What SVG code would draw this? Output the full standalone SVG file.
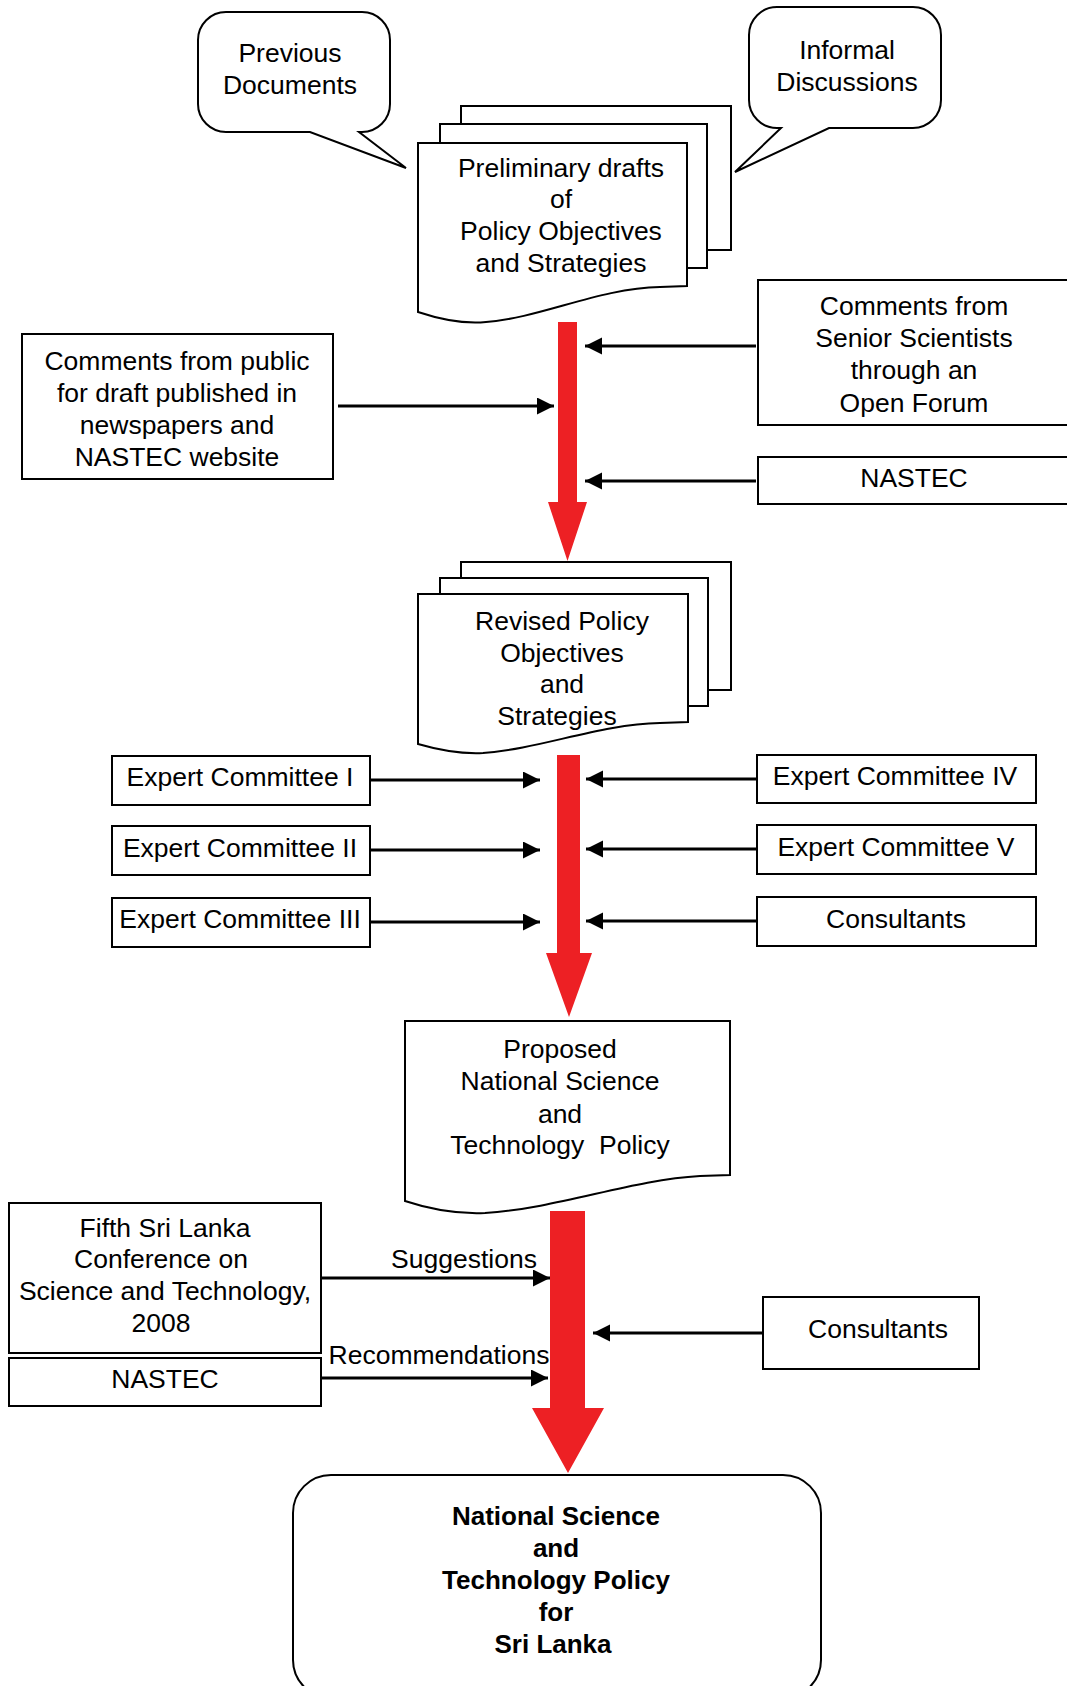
<svg xmlns="http://www.w3.org/2000/svg" width="1067" height="1686" viewBox="0 0 1067 1686">
<style>
.box{fill:#fff;stroke:#000;stroke-width:2}
.t{font-family:"Liberation Sans",Arial,sans-serif;font-size:26.5px;fill:#000;text-anchor:middle}
.b{font-family:"Liberation Sans",Arial,sans-serif;font-size:26px;font-weight:bold;fill:#000;text-anchor:middle}
.ln{stroke:#000;stroke-width:3.2;fill:none;marker-end:url(#ah)}
.red{fill:#ED2024;stroke:none}
</style>
<defs>
<marker id="ah" markerUnits="userSpaceOnUse" markerWidth="18" markerHeight="18" refX="17" refY="8.5" orient="auto">
<path d="M0,0 L17,8.5 L0,17 Z" fill="#000"/>
</marker>
</defs>
<rect width="1067" height="1686" fill="#fff"/>

<g id="previous-documents">
<path class="box" d="M226,12 H362 A28 28 0 0 1 390 40 V104 A28 28 0 0 1 362 132 H359 L406 168 L310 132 H226 A28 28 0 0 1 198 104 V40 A28 28 0 0 1 226 12 Z"/>
<text class="t" x="290" y="62">Previous</text>
<text class="t" x="290" y="94">Documents</text>
</g>

<g id="informal-discussions">
<path class="box" d="M777,7 H913 A28 28 0 0 1 941 35 V100 A28 28 0 0 1 913 128 H829 L735 172 L781 128 H777 A28 28 0 0 1 749 100 V35 A28 28 0 0 1 777 7 Z"/>
<text class="t" x="847" y="59">Informal</text>
<text class="t" x="847" y="91">Discussions</text>
</g>

<g id="preliminary-drafts">
<rect class="box" x="461" y="106" width="270" height="144"/>
<rect class="box" x="440" y="124" width="267" height="144"/>
<path class="box" d="M418,143 H687 V286 L660,287 C600,288 540,318 486,322 C465,324 445,321 418,312 Z"/>
<text class="t" x="561" y="177">Preliminary drafts</text>
<text class="t" x="561" y="208">of</text>
<text class="t" x="561" y="240">Policy Objectives</text>
<text class="t" x="561" y="272">and Strategies</text>
</g>

<g id="comments-public">
<rect class="box" x="22" y="334" width="311" height="145"/>
<text class="t" x="177" y="370">Comments from public</text>
<text class="t" x="177" y="402">for draft published in</text>
<text class="t" x="177" y="434">newspapers and</text>
<text class="t" x="177" y="466">NASTEC website</text>
</g>

<g id="senior-scientists">
<rect class="box" x="758" y="280" width="330" height="145"/>
<text class="t" x="914" y="315">Comments from</text>
<text class="t" x="914" y="347">Senior Scientists</text>
<text class="t" x="914" y="379">through an</text>
<text class="t" x="914" y="412">Open Forum</text>
</g>

<g id="nastec-1">
<rect class="box" x="758" y="457" width="330" height="47"/>
<text class="t" x="914" y="487">NASTEC</text>
</g>

<g id="revised-policy">
<rect class="box" x="461" y="562" width="270" height="128"/>
<rect class="box" x="440" y="578" width="268" height="128"/>
<path class="box" d="M418,594 H688 V722 L660,723 C600,724 540,749 483,753 C462,754 442,751 418,744 Z"/>
<text class="t" x="562" y="630">Revised Policy</text>
<text class="t" x="562" y="662">Objectives</text>
<text class="t" x="562" y="693">and</text>
<text class="t" x="557" y="725">Strategies</text>
</g>

<g id="expert-committee-1">
<rect class="box" x="112" y="756" width="258" height="49"/>
<text class="t" x="240" y="786">Expert Committee I</text>
</g>
<g id="expert-committee-2">
<rect class="box" x="112" y="826" width="258" height="49"/>
<text class="t" x="240" y="857">Expert Committee II</text>
</g>
<g id="expert-committee-3">
<rect class="box" x="112" y="898" width="258" height="49"/>
<text class="t" x="240" y="928">Expert Committee III</text>
</g>
<g id="expert-committee-4">
<rect class="box" x="757" y="755" width="279" height="48"/>
<text class="t" x="895" y="785">Expert Committee IV</text>
</g>
<g id="expert-committee-5">
<rect class="box" x="757" y="825" width="279" height="49"/>
<text class="t" x="896" y="856">Expert Committee V</text>
</g>
<g id="consultants-1">
<rect class="box" x="757" y="897" width="279" height="49"/>
<text class="t" x="896" y="928">Consultants</text>
</g>

<g id="proposed-policy">
<path class="box" d="M405,1021 H730 V1175 L700,1176 C630,1180 560,1208 485,1213 C462,1214 432,1210 405,1201 Z"/>
<text class="t" x="560" y="1058">Proposed</text>
<text class="t" x="560" y="1090">National Science</text>
<text class="t" x="560" y="1123">and</text>
<text class="t" x="560" y="1154" xml:space="preserve">Technology  Policy</text>
</g>

<g id="fifth-conference">
<rect class="box" x="9" y="1203" width="312" height="150"/>
<text class="t" x="165" y="1237">Fifth Sri Lanka</text>
<text class="t" x="161" y="1268">Conference on</text>
<text class="t" x="165" y="1300">Science and Technology,</text>
<text class="t" x="161" y="1332">2008</text>
</g>

<g id="nastec-2">
<rect class="box" x="9" y="1358" width="312" height="48"/>
<text class="t" x="165" y="1388">NASTEC</text>
</g>

<g id="consultants-2">
<rect class="box" x="763" y="1297" width="216" height="72"/>
<text class="t" x="878" y="1338">Consultants</text>
</g>

<g id="final-policy">
<rect class="box" x="293" y="1475" width="528" height="223" rx="38" ry="38"/>
<text class="b" x="556" y="1525">National Science</text>
<text class="b" x="556" y="1557">and</text>
<text class="b" x="556" y="1589">Technology Policy</text>
<text class="b" x="556" y="1621">for</text>
<text class="b" x="553" y="1653">Sri Lanka</text>
</g>

<g id="connectors">
<polygon class="red" points="558,322 577,322 577,502 587,502 567.5,561 548,502 558,502"/>
<polygon class="red" points="557,755 580,755 580,953 592,953 569,1017 546,953 557,953"/>
<polygon class="red" points="550,1211 585,1211 585,1408 604,1408 568,1473 532,1408 550,1408"/>
<line class="ln" x1="338" y1="406" x2="554" y2="406"/>
<line class="ln" x1="756" y1="346" x2="585" y2="346"/>
<line class="ln" x1="756" y1="481" x2="585" y2="481"/>
<line class="ln" x1="371" y1="780" x2="540" y2="780"/>
<line class="ln" x1="371" y1="850" x2="540" y2="850"/>
<line class="ln" x1="371" y1="922" x2="540" y2="922"/>
<line class="ln" x1="756" y1="779" x2="586" y2="779"/>
<line class="ln" x1="756" y1="849" x2="586" y2="849"/>
<line class="ln" x1="756" y1="921" x2="586" y2="921"/>
<line class="ln" x1="322" y1="1278" x2="550" y2="1278"/>
<line class="ln" x1="322" y1="1378" x2="548" y2="1378"/>
<line class="ln" x1="762" y1="1333" x2="593" y2="1333"/>
<text class="t" x="464" y="1268">Suggestions</text>
<text class="t" x="439" y="1364">Recommendations</text>
</g>
</svg>
